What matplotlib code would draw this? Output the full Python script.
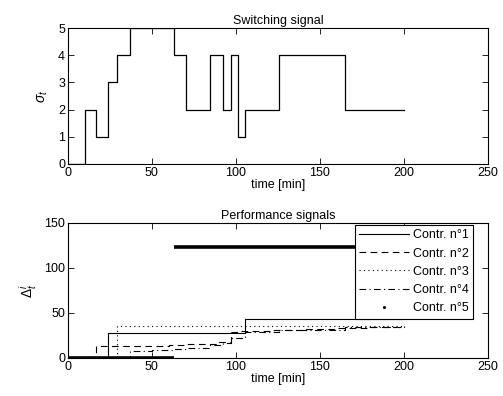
import matplotlib
matplotlib.use("Agg")
import matplotlib.pyplot as plt
import numpy as np
from matplotlib.lines import Line2D

plt.rcParams['font.family'] = ['Liberation Sans', 'DejaVu Sans']
plt.rcParams['mathtext.fontset'] = 'custom'
plt.rcParams['mathtext.it'] = 'Liberation Sans:italic'
plt.rcParams['mathtext.rm'] = 'Liberation Sans'

# Switching signal (step times and values)
sw_t = [0, 10, 17, 23.6, 29.3, 36.9, 63.2, 70.2, 84.7, 92.6, 97.3, 101.3, 105.3, 125.5, 165.1, 200]
sw_v = [0, 2, 1, 3, 4, 5, 4, 2, 4, 2, 4, 1, 2, 4, 2, 2]

# Performance signals
c1_t = [0, 23.6, 105.3, 200]
c1_v = [0, 27.8, 43.7, 43.7]

c2_t = [0, 17, 30, 45, 60, 70, 80, 90, 97.3, 101.3, 120, 140, 160, 180, 200]
c2_v = [0, 13, 13.3, 13.8, 14.3, 15, 16, 17.5, 29, 30, 31.5, 32.5, 33.5, 34.5, 35]

c3_t = [0, 29.3, 200]
c3_v = [0, 35.2, 35.2]

c4_t = [0, 36.9, 50, 63.2, 70.2, 84.7, 92.6, 97.3, 105.3, 125.5, 165.1, 198]
c4_v = [0, 7.5, 9, 10, 11.5, 14, 17, 22, 29, 31, 34, 34.5]

c5_t = [0, 63.2, 63.2, 200]
c5_v = [0, 0, 123.5, 123.5]

fig = plt.figure(figsize=(5.03, 3.96), dpi=100)
ax1 = fig.add_axes([0.135, 0.586, 0.835, 0.343])
ax2 = fig.add_axes([0.135, 0.096, 0.835, 0.341])

fs = 9
for ax in (ax1, ax2):
    ax.tick_params(direction='in', length=4, width=0.6, labelsize=fs, top=True, right=True, pad=2)
    for s in ax.spines.values():
        s.set_linewidth(0.8)
    ax.set_xlim(0, 250)
    ax.set_xticks([0, 50, 100, 150, 200, 250])

ax1.step(sw_t, sw_v, where='post', color='black', lw=0.9)
ax1.set_ylim(0, 5)
ax1.set_yticks([0, 1, 2, 3, 4, 5])
ax1.set_title('Switching signal', fontsize=fs, pad=3)
ax1.set_xlabel('time [min]', fontsize=fs, labelpad=0)
ax1.set_ylabel(r'$\sigma_t$', fontsize=fs + 1, labelpad=6)

ax2.step(c1_t, c1_v, where='post', color='black', lw=0.8, ls='-')
ax2.step(c2_t, c2_v, where='post', color='black', lw=0.8, ls=(0, (6, 4)))
ax2.step(c3_t, c3_v, where='post', color='black', lw=0.8, ls=(0, (1, 3)))
ax2.step(c4_t, c4_v, where='post', color='black', lw=0.8, ls=(0, (6, 3, 1, 3)))
# Contr 5 drawn as dense dots -> thick segments, no connecting vertical
ax2.plot(c5_t[:2], c5_v[:2], color='black', lw=2.6, solid_capstyle='butt')
ax2.plot(c5_t[2:], c5_v[2:], color='black', lw=2.6, solid_capstyle='butt')

ax2.set_ylim(0, 150)
ax2.set_yticks([0, 50, 100, 150])
ax2.set_title('Performance signals', fontsize=fs, pad=3)
ax2.set_xlabel('time [min]', fontsize=fs, labelpad=0)
ax2.set_ylabel(r'$\Delta_t^i$', fontsize=fs + 1, labelpad=4)

handles = [
    Line2D([], [], color='black', lw=0.8, ls='-'),
    Line2D([], [], color='black', lw=0.8, ls=(0, (6, 4))),
    Line2D([], [], color='black', lw=0.8, ls=(0, (1, 3))),
    Line2D([], [], color='black', lw=0.8, ls=(0, (6, 3, 1, 3))),
    Line2D([], [], color='black', marker='.', ms=2.5, ls='none'),
]
labels = ['Contr. n°1', 'Contr. n°2', 'Contr. n°3', 'Contr. n°4', 'Contr. n°5']
leg = ax2.legend(handles, labels, loc='upper right', bbox_to_anchor=(0.965, 0.985),
                 borderaxespad=0, fontsize=fs, handlelength=4.0, handletextpad=0.3,
                 labelspacing=0.5, borderpad=0.35, fancybox=False, framealpha=1)
leg.get_frame().set_edgecolor('black')
leg.get_frame().set_linewidth(0.8)

fig.savefig('out.png', dpi=100)
